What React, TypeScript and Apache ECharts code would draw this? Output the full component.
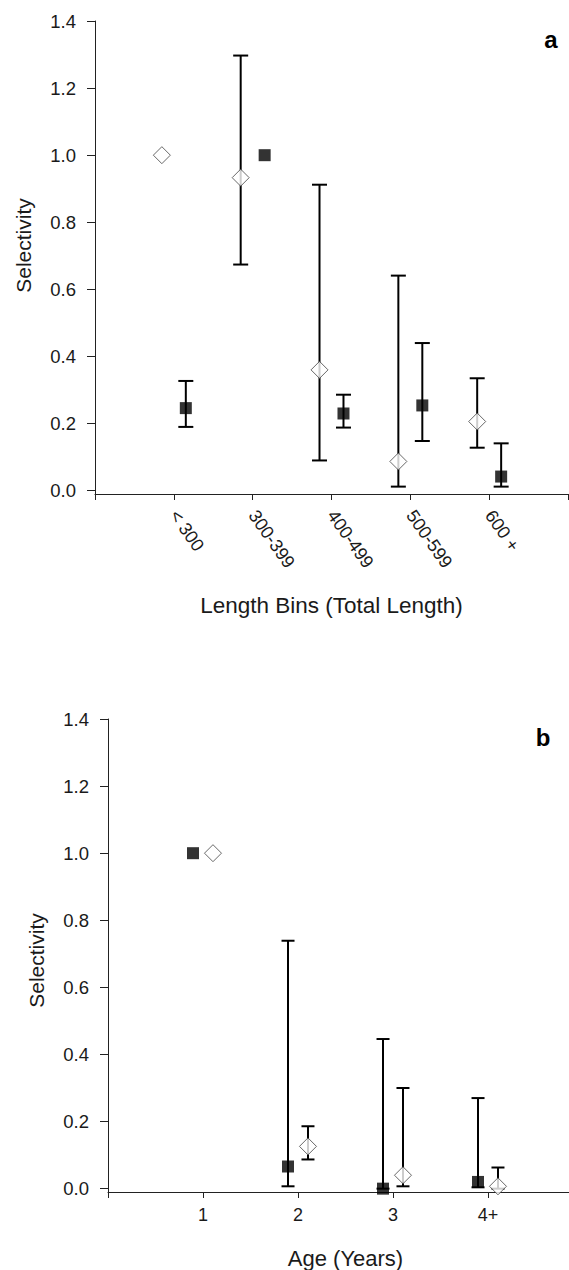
import React, { useEffect, useRef } from "react";
import * as echarts from "echarts";

// Panel a: length bins
const lengthBins = ["< 300", "300-399", "400-499", "500-599", "600 +"];
const aOpen = [1.0, 0.933, 0.36, 0.087, 0.206];
const aOpenLow = [null, 0.674, 0.09, 0.012, 0.128];
const aOpenHigh = [null, 1.297, 0.912, 0.641, 0.335];
const aFilled = [0.246, 1.0, 0.23, 0.254, 0.042];
const aFilledLow = [0.19, null, 0.188, 0.148, 0.012];
const aFilledHigh = [0.327, null, 0.286, 0.44, 0.141];

// Panel b: age
const ages = ["1", "2", "3", "4+"];
const bFilled = [1.0, 0.066, 0.0, 0.02];
const bFilledLow = [null, 0.007, 0.0, 0.004];
const bFilledHigh = [null, 0.739, 0.446, 0.27];
const bOpen = [1.0, 0.126, 0.04, 0.007];
const bOpenLow = [null, 0.087, 0.007, 0.0];
const bOpenHigh = [null, 0.186, 0.3, 0.063];

const yTicks = [0, 0.2, 0.4, 0.6, 0.8, 1.0, 1.2, 1.4];

const FONT = "Liberation Sans, Arial, sans-serif";
const AXIS_COLOR = "#222";
const TEXT_COLOR = "#1a1a1a";

function points(vals: (number | null)[], offset: number) {
  return vals.map((v, i) => [i + 1 + offset, v]);
}
function bars(low: (number | null)[], high: (number | null)[], offset: number) {
  const out: number[][] = [];
  low.forEach((l, i) => {
    const h = high[i];
    if (l != null && h != null) out.push([i + 1 + offset, l, h]);
  });
  return out;
}

function errorSeries(data: number[][], idx: number, cap: number) {
  return {
    type: "custom",
    xAxisIndex: idx,
    yAxisIndex: idx,
    z: 2,
    data,
    encode: { x: 0, y: [1, 2] },
    renderItem: (params: any, api: any) => {
      const x = api.value(0);
      const lo = api.coord([x, api.value(1)]);
      const hi = api.coord([x, api.value(2)]);
      const hw = cap / 2;
      const style = { stroke: "#000", lineWidth: 2 };
      return {
        type: "group",
        children: [
          { type: "line", shape: { x1: lo[0], y1: lo[1], x2: hi[0], y2: hi[1] }, style },
          { type: "line", shape: { x1: lo[0] - hw, y1: lo[1], x2: lo[0] + hw, y2: lo[1] }, style },
          { type: "line", shape: { x1: hi[0] - hw, y1: hi[1], x2: hi[0] + hw, y2: hi[1] }, style },
        ],
      };
    },
  };
}

function openSeries(data: any[], idx: number) {
  return {
    type: "scatter",
    xAxisIndex: idx,
    yAxisIndex: idx,
    z: 3,
    symbol: "diamond",
    symbolSize: 17,
    itemStyle: { color: "#fff", borderColor: "#444", borderWidth: 1 },
    data: data.filter((d) => d[1] != null),
  };
}
function filledSeries(data: any[], idx: number) {
  return {
    type: "scatter",
    xAxisIndex: idx,
    yAxisIndex: idx,
    z: 3,
    symbol: "rect",
    symbolSize: 12,
    itemStyle: { color: "#000" },
    data: data.filter((d) => d[1] != null),
  };
}

function yAxis(idx: number, namePad: number[]) {
  return {
    gridIndex: idx,
    type: "value",
    min: -0.01,
    max: 1.4,
    axisLine: { show: true, lineStyle: { color: AXIS_COLOR, width: 1 } },
    axisTick: { show: true, length: 8, customValues: yTicks, lineStyle: { color: AXIS_COLOR } },
    axisLabel: {
      customValues: yTicks,
      formatter: (v: number) => v.toFixed(1),
      margin: 19,
      fontSize: 18.5,
      color: TEXT_COLOR,
      fontFamily: FONT,
    },
    splitLine: { show: false },
    name: "Selectivity",
    nameLocation: "middle",
    nameGap: 61,
    nameRotate: 90,
    nameTextStyle: { fontSize: 21, color: TEXT_COLOR, fontFamily: FONT, padding: namePad },
  };
}

export default function App() {
  const ref = useRef<HTMLDivElement>(null);
  useEffect(() => {
    if (!ref.current) return;
    const chart = echarts.init(ref.current, null, { renderer: "svg" });
    const aOff = 0.152;
    const bOff = 0.105;
    chart.setOption({
      animation: false,
      backgroundColor: "#fff",
      grid: [
        { left: 95, top: 21, width: 473, height: 473 },
        { left: 108, top: 719, width: 475, height: 473 },
      ],
      xAxis: [
        {
          gridIndex: 0,
          type: "value",
          min: 0,
          max: 6,
          interval: 1,
          axisLine: { onZero: false, lineStyle: { color: AXIS_COLOR, width: 1 } },
          axisTick: { length: 6, lineStyle: { color: AXIS_COLOR } },
          axisLabel: {
            formatter: (v: number) => lengthBins[v - 1] ?? "",
            rotate: -55,
            margin: 18,
            fontSize: 18,
            color: TEXT_COLOR,
            fontFamily: FONT,
          },
          splitLine: { show: false },
          name: "Length Bins (Total Length)",
          nameLocation: "middle",
          nameGap: 100,
          nameTextStyle: { fontSize: 22.5, color: TEXT_COLOR, fontFamily: FONT },
        },
        {
          gridIndex: 1,
          type: "value",
          min: 0,
          max: 5,
          interval: 1,
          axisLine: { onZero: false, lineStyle: { color: AXIS_COLOR, width: 1 } },
          axisTick: { length: 6, lineStyle: { color: AXIS_COLOR } },
          axisLabel: {
            formatter: (v: number) => ages[v - 1] ?? "",
            margin: 14,
            fontSize: 18,
            color: TEXT_COLOR,
            fontFamily: FONT,
          },
          splitLine: { show: false },
          name: "Age (Years)",
          nameLocation: "middle",
          nameGap: 55,
          nameTextStyle: { fontSize: 22, color: TEXT_COLOR, fontFamily: FONT },
        },
      ],
      yAxis: [yAxis(0, [0, 0, 0, 24]), yAxis(1, [0, 10, 0, 0])],
      graphic: [
        {
          type: "text",
          x: 551,
          y: 39,
          style: {
            text: "a",
            font: "bold 24px Liberation Sans, Arial, sans-serif",
            fill: "#000",
            textAlign: "center",
            textVerticalAlign: "middle",
          },
        },
        {
          type: "text",
          x: 543,
          y: 737,
          style: {
            text: "b",
            font: "bold 24px Liberation Sans, Arial, sans-serif",
            fill: "#000",
            textAlign: "center",
            textVerticalAlign: "middle",
          },
        },
      ],
      series: [
        errorSeries(bars(aOpenLow, aOpenHigh, -aOff), 0, 15),
        errorSeries(bars(aFilledLow, aFilledHigh, aOff), 0, 15),
        openSeries(points(aOpen, -aOff), 0),
        filledSeries(points(aFilled, aOff), 0),
        errorSeries(bars(bFilledLow, bFilledHigh, -bOff), 1, 13),
        errorSeries(bars(bOpenLow, bOpenHigh, bOff), 1, 13),
        filledSeries(points(bFilled, -bOff), 1),
        openSeries(points(bOpen, bOff), 1),
      ],
    });
    return () => chart.dispose();
  }, []);
  return (
    <div
      style={{
        position: "absolute",
        left: 0,
        top: 0,
        width: 569,
        height: 1270,
        overflow: "hidden",
        background: "#fff",
      }}
    >
      <div ref={ref} style={{ width: 600, height: 1270 }} />
    </div>
  );
}
